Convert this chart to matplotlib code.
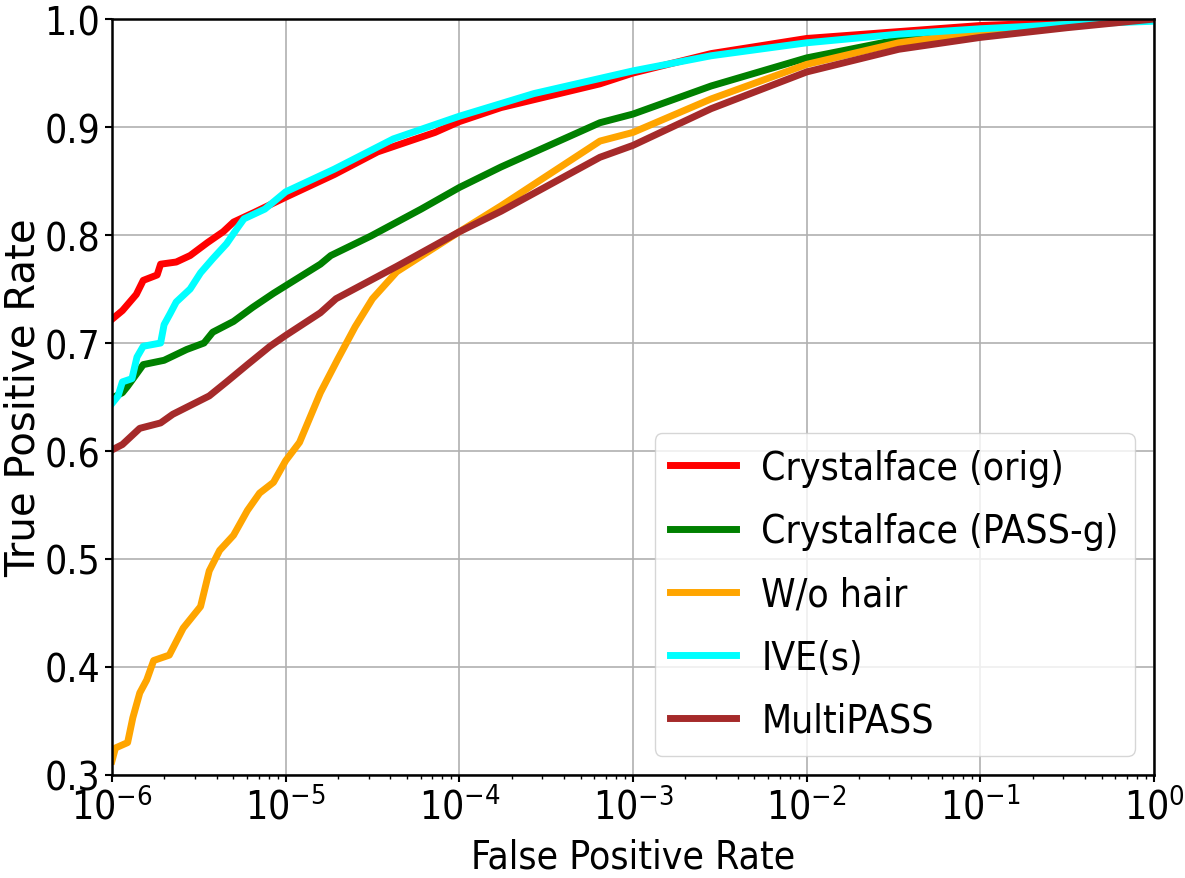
import numpy as np
import matplotlib
matplotlib.use("Agg")
import matplotlib.pyplot as plt

# ROC curves (x stored as log10 of FPR)
orig_exp = [-6.0, -5.94, -5.86, -5.82, -5.74, -5.72, -5.63, -5.55, -5.45, -5.36, -5.30, -5.18,
            -5.0, -4.72, -4.47, -4.14, -4.0, -3.76, -3.19, -3.0, -2.55, -2.0, -1.0, 0.0]
orig_tpr = [0.722, 0.730, 0.745, 0.758, 0.763, 0.773, 0.775, 0.781, 0.793, 0.803, 0.812, 0.821,
            0.835, 0.856, 0.877, 0.895, 0.905, 0.918, 0.940, 0.950, 0.968, 0.982, 0.994, 1.0]

passg_exp = [-6.0, -5.94, -5.91, -5.82, -5.70, -5.57, -5.47, -5.42, -5.30, -5.19, -5.07, -5.0,
             -4.80, -4.74, -4.51, -4.22, -4.0, -3.76, -3.19, -3.0, -2.55, -2.0, -1.47, -1.0, -0.5, 0.0]
passg_tpr = [0.649, 0.654, 0.660, 0.680, 0.684, 0.694, 0.700, 0.710, 0.720, 0.733, 0.746, 0.753,
             0.773, 0.781, 0.799, 0.824, 0.844, 0.863, 0.904, 0.912, 0.938, 0.964, 0.981, 0.989, 0.995, 1.0]

nohair_exp = [-6.0, -5.98, -5.91, -5.88, -5.84, -5.80, -5.76, -5.67, -5.59, -5.49, -5.44, -5.38,
              -5.30, -5.22, -5.15, -5.07, -5.0, -4.92, -4.80, -4.70, -4.60, -4.50, -4.36, -4.0,
              -3.76, -3.19, -3.0, -2.55, -2.0, -1.47, -1.0, -0.5, 0.0]
nohair_tpr = [0.313, 0.325, 0.330, 0.353, 0.376, 0.388, 0.406, 0.411, 0.436, 0.456, 0.489, 0.508,
              0.522, 0.545, 0.561, 0.571, 0.591, 0.608, 0.654, 0.685, 0.715, 0.741, 0.766, 0.803,
              0.827, 0.887, 0.895, 0.926, 0.958, 0.978, 0.988, 0.995, 1.0]

ive_exp = [-6.0, -5.965, -5.94, -5.885, -5.856, -5.82, -5.72, -5.70, -5.666, -5.63, -5.55, -5.49,
           -5.42, -5.34, -5.28, -5.24, -5.12, -5.0, -4.72, -4.38, -4.0, -3.57, -3.19, -3.0, -2.55,
           -2.0, -1.47, -1.0, -0.5, 0.0]
ive_tpr = [0.644, 0.651, 0.664, 0.667, 0.687, 0.697, 0.700, 0.717, 0.727, 0.738, 0.750, 0.765,
           0.778, 0.792, 0.806, 0.815, 0.824, 0.840, 0.861, 0.889, 0.910, 0.931, 0.945, 0.952, 0.966,
           0.978, 0.986, 0.991, 0.995, 0.998]

multi_exp = [-6.0, -5.94, -5.84, -5.72, -5.65, -5.44, -5.34, -5.22, -5.09, -5.0, -4.80, -4.71,
             -4.36, -4.0, -3.76, -3.19, -3.0, -2.55, -2.0, -1.47, -1.0, -0.5, 0.0]
multi_tpr = [0.601, 0.606, 0.621, 0.626, 0.634, 0.651, 0.664, 0.680, 0.697, 0.707, 0.728, 0.741,
             0.771, 0.803, 0.822, 0.872, 0.883, 0.917, 0.951, 0.972, 0.983, 0.992, 1.0]

labels = ["Crystalface (orig)", "Crystalface (PASS-g)", "W/o hair", "IVE(s)", "MultiPASS"]
colors = ["red", "green", "orange", "cyan", "brown"]

plt.rcParams["font.family"] = "DejaVu Sans"
plt.rcParams["font.stretch"] = "condensed"
plt.rcParams["mathtext.fontset"] = "custom"
plt.rcParams["mathtext.rm"] = "DejaVu Sans:stretch=condensed"

fig = plt.figure(figsize=(11.85, 8.79), dpi=100)
ax = fig.add_axes([0.0945, 0.1172, 0.8793, 0.86])

curves = [(orig_exp, orig_tpr), (passg_exp, passg_tpr), (nohair_exp, nohair_tpr),
          (ive_exp, ive_tpr), (multi_exp, multi_tpr)]
for (ex, tpr), lab, c in zip(curves, labels, colors):
    ax.plot(10.0 ** np.array(ex), tpr, color=c, lw=5, label=lab)

ax.set_xscale("log")
ax.set_xlim(1e-6, 1)
ax.set_ylim(0.3, 1.0)
ax.set_yticks(np.arange(0.3, 1.01, 0.1))
ax.grid(True, which="major", color="#b0b0b0", lw=1.2)
ax.tick_params(labelsize=28, width=1.5, length=5)
ax.tick_params(which="minor", width=1, length=3)
for s in ax.spines.values():
    s.set_linewidth(1.8)
ax.set_xlabel("False Positive Rate", fontsize=28, labelpad=8)
ax.set_ylabel("True Positive Rate", fontsize=29, fontstretch="normal")
ax.yaxis.set_label_coords(-0.066, 0.5)

ax.legend(loc="lower right", fontsize=28, handlelength=1.7, handletextpad=0.65,
          labelspacing=0.65, borderaxespad=0.5, framealpha=0.8)

fig.savefig("out.png", dpi=100)
